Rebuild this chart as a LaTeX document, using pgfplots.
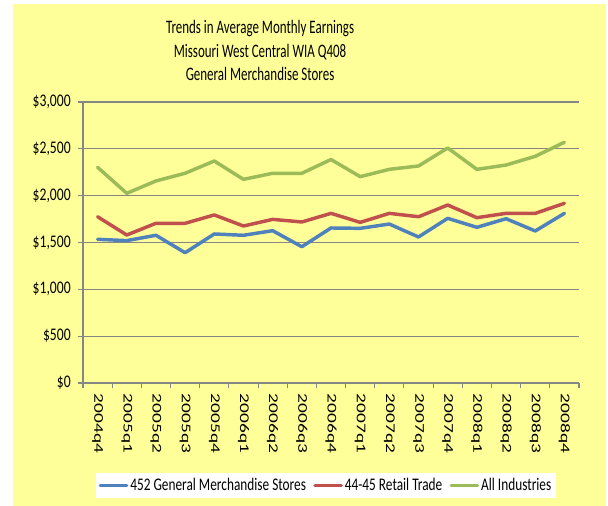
\documentclass[border=0pt]{standalone}
\usepackage{fontspec}
\usepackage{pgfplots}
\pgfplotsset{compat=1.18}
\setmainfont{Carlito}
\newfontfamily\ftitle{Carlito}[FakeStretch=0.68]
\newfontfamily\fy{Carlito}[FakeStretch=0.77]
\newfontfamily\fleg{Carlito}[FakeStretch=0.75]
\newfontfamily\fx{Carlito}[FakeStretch=1.45]
\definecolor{bgyel}{HTML}{FFFF99}
\definecolor{axgray}{HTML}{868686}
\definecolor{sblue}{HTML}{4F81BD}
\definecolor{sred}{HTML}{C0504D}
\definecolor{sgreen}{HTML}{9BBB59}
\begin{document}
\begin{tikzpicture}
\fill[white] (0,0) rectangle (456pt,379.5pt);
\fill[bgyel] (9.5pt,0) rectangle (454.5pt,376.5pt);
\begin{axis}[
  at={(62.25pt,92.25pt)}, anchor=south west,
  scale only axis, width=372pt, height=210.75pt,
  xmin=-0.5, xmax=16.5, ymin=0, ymax=3000,
  axis x line*=bottom, axis y line*=left,
  axis line style={draw=axgray, line width=0.8pt},
  ymajorgrids, grid style={draw=axgray, line width=0.8pt},
  tick align=outside,
  major tick length=4pt,
  minor tick length=4pt,
  tick style={draw=axgray, line width=0.8pt},
  xtick={0,...,16},
  major x tick style={draw=none},
  minor xtick={-0.5,0.5,...,16.5},
  xticklabels={2004q4,2005q1,2005q2,2005q3,2005q4,2006q1,2006q2,2006q3,2006q4,2007q1,2007q2,2007q3,2007q4,2008q1,2008q2,2008q3,2008q4},
  xticklabel shift=4pt,
  xticklabel style={rotate=-90, anchor=west, inner sep=0pt, font=\fx\fontsize{10pt}{11pt}\selectfont},
  ytick={0,500,1000,1500,2000,2500,3000},
  yticklabels={{\$0},{\$500},{\$1,000},{\$1,500},{\$2,000},{\$2,500},{\$3,000}},
  yticklabel style={font=\fy\fontsize{13.3pt}{15pt}\selectfont, inner sep=0pt, xshift=-5pt},
  title={Trends in Average Monthly Earnings\\Missouri West Central WIA Q408\\General Merchandise Stores},
  title style={font=\ftitle\fontsize{14.3pt}{17.4pt}\selectfont, align=center, at={(axis description cs:0.357,1)}, anchor=south, inner sep=0pt, yshift=10pt},
  legend style={at={(axis description cs:0.49,-0.365)}, anchor=center, draw=none, fill=white,
    font=\fleg\fontsize{13.3pt}{15pt}\selectfont, inner xsep=2pt, inner ysep=2pt,
    nodes={inner xsep=1.5pt},
    /tikz/every even column/.append style={column sep=4pt}},
  legend columns=3,
  legend image code/.code={\draw[#1, line width=2.2pt] (0pt,0pt) -- (20pt,0pt);},
  every axis plot/.append style={line width=2.6pt, line join=round, line cap=round},
]
\addplot[sblue] coordinates {(0,1534)(1,1520)(2,1577)(3,1391)(4,1591)(5,1577)(6,1626)(7,1455)(8,1655)(9,1651)(10,1697)(11,1559)(12,1758)(13,1662)(14,1754)(15,1623)(16,1811)};
\addplot[sred] coordinates {(0,1775)(1,1580)(2,1705)(3,1705)(4,1794)(5,1676)(6,1747)(7,1719)(8,1811)(9,1715)(10,1811)(11,1775)(12,1900)(13,1765)(14,1811)(15,1811)(16,1918)};
\addplot[sgreen] coordinates {(0,2303)(1,2025)(2,2157)(3,2239)(4,2370)(5,2174)(6,2239)(7,2239)(8,2386)(9,2203)(10,2281)(11,2317)(12,2509)(13,2281)(14,2327)(15,2420)(16,2570)};
\legend{452 General Merchandise Stores,44-45 Retail Trade,All Industries}
\end{axis}
\end{tikzpicture}
\end{document}
